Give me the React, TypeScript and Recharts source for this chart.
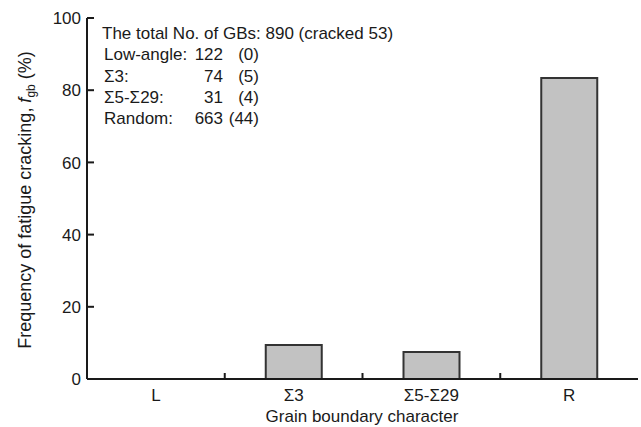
import { BarChart, Bar, XAxis, YAxis } from 'recharts';

const categories = ['L', 'Σ3', 'Σ5-Σ29', 'R'];
const frequency = [0, 9.4, 7.5, 83.4];
const yTicks = [0, 20, 40, 60, 80, 100];

const totalGBs = 890;
const totalCracked = 53;
const gbTypes = ['Low-angle:', 'Σ3:', 'Σ5-Σ29:', 'Random:'];
const gbTotals = [122, 74, 31, 663];
const gbCracked = [0, 5, 4, 44];

const FONT = '"Liberation Sans", Arial, Helvetica, sans-serif';
const INK = '#1a1a1a';

const chartData = categories.map((name, i) => ({ name, fgb: frequency[i] }));

function CategoryTick(props: any) {
  const { x, y, payload, index } = props;
  const half = payload?.offset ?? 68.9;
  return (
    <g>
      <text x={x} y={y + 22} textAnchor="middle" fontSize={17} fill={INK} fontFamily={FONT}>
        {payload.value}
      </text>
      {index < categories.length - 1 && (
        <line x1={x + half} x2={x + half} y1={y} y2={y - 6} stroke={INK} strokeWidth={2} />
      )}
    </g>
  );
}

// ticks point into the plot, labels sit outside
function ValueTick(props: any) {
  const { x, y, payload } = props;
  return (
    <g>
      <rect x={x} y={y - 1} width={7} height={2} fill={INK} />
      <text x={x - 6} y={y} dy="0.36em" textAnchor="end" fontSize={17} fill={INK} fontFamily={FONT}>
        {payload.value}
      </text>
    </g>
  );
}

function YTitle() {
  return (
    <text
      transform="translate(31,200) rotate(-90)"
      textAnchor="middle"
      fontSize={18}
      fill={INK}
      fontFamily={FONT}
    >
      Frequency of fatigue cracking, <tspan fontStyle="italic">f</tspan>
      <tspan fontSize={12} dy={4}>gb</tspan>
      <tspan dy={-4}> (%)</tspan>
    </text>
  );
}

function XTitle() {
  return (
    <text x={362} y={422} textAnchor="middle" fontSize={17} fill={INK} fontFamily={FONT}>
      Grain boundary character
    </text>
  );
}

export default function App() {
  return (
    <div style={{ position: 'absolute', left: 0, top: 0, width: 641, height: 427, background: '#fff' }}>
      <BarChart
        width={641}
        height={427}
        data={chartData}
        margin={{ top: 18, right: 3, left: 0, bottom: 0 }}
      >
        <XAxis
          dataKey="name"
          height={48}
          axisLine={{ stroke: INK, strokeWidth: 2 }}
          tickLine={false}
          tickSize={0}
          tickMargin={0}
          tick={<CategoryTick />}
          interval={0}
          label={<XTitle />}
        />
        <XAxis
          xAxisId="top"
          dataKey="name"
          orientation="top"
          height={0}
          axisLine={{ stroke: INK, strokeWidth: 2 }}
          tick={false}
          tickLine={false}
        />
        <YAxis
          width={87}
          domain={[0, 100]}
          ticks={yTicks}
          axisLine={{ stroke: INK, strokeWidth: 2 }}
          tickLine={false}
          tickSize={0}
          tickMargin={0}
          tick={<ValueTick />}
          label={<YTitle />}
        />
        <YAxis
          yAxisId="right"
          orientation="right"
          width={0}
          domain={[0, 100]}
          axisLine={{ stroke: INK, strokeWidth: 2 }}
          tick={false}
          tickLine={false}
        />
        <Bar
          dataKey="fgb"
          fill="#c2c2c2"
          stroke="#333"
          strokeWidth={2}
          barSize={56}
          isAnimationActive={false}
        />
      </BarChart>
      <div
        style={{
          position: 'absolute',
          left: 102,
          top: 23,
          fontFamily: FONT,
          fontSize: 17,
          lineHeight: '21.3px',
          color: INK,
          whiteSpace: 'nowrap',
        }}
      >
        <div>
          The total No. of GBs: {totalGBs} (cracked {totalCracked})
        </div>
        {gbTypes.map((t, i) => (
          <div key={t} style={{ position: 'relative', height: 21.3, marginLeft: 2 }}>
            <span>{t}</span>
            <span style={{ position: 'absolute', left: 0, width: 119, textAlign: 'right' }}>
              {gbTotals[i]}
            </span>
            <span style={{ position: 'absolute', left: 0, width: 155, textAlign: 'right' }}>
              ({gbCracked[i]})
            </span>
          </div>
        ))}
      </div>
    </div>
  );
}
